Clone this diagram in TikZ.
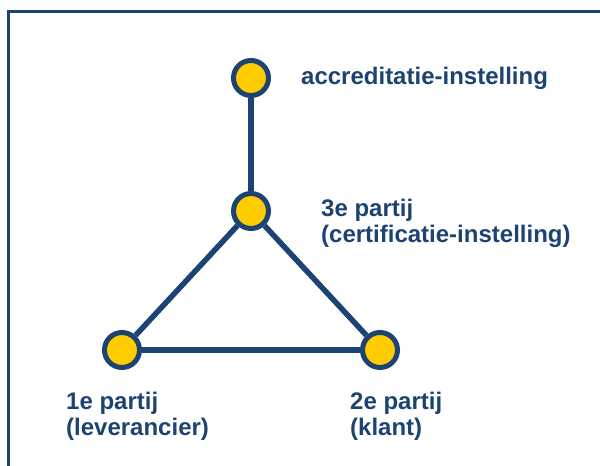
\documentclass[tikz,border=0pt]{standalone}
\usepackage{fontspec}
\setmainfont{Liberation Sans}
\usepackage{xcolor}
\usetikzlibrary{calc}

\definecolor{partyblue}{HTML}{1D4373}
\definecolor{partyyellow}{HTML}{FFCC00}

\begin{document}
\begin{tikzpicture}[x=1pt, y=-1pt,
    party/.style={circle, draw=partyblue, fill=partyyellow, line width=5pt, minimum size=35pt, inner sep=0pt},
    tie/.style={draw=partyblue, line width=5.5pt},
    partylabel/.style={anchor=base west, align=left, inner sep=0pt, text=partyblue,
      font=\fontsize{24}{26}\selectfont\bfseries}]

      \useasboundingbox (0,0) rectangle (600,466);

      \draw[partyblue, line width=3pt] (8,466) -- (8,11) -- (600,11);

      \node[party] (accr) at (251,78) {};
      \node[party] (derde) at (251,211) {};
      \node[party] (eerste) at (122,350) {};
      \node[party] (tweede) at (380,350) {};

      \draw[tie] (accr) -- (derde);
      \draw[tie] (derde) -- (eerste);
      \draw[tie] (derde) -- (tweede);
      \draw[tie] (eerste) -- (tweede);

      \node[partylabel] (accrtext) at (301,84) {accreditatie-instelling};
      \node[partylabel] (derdetext) at (321,242) {3e partij\\(certificatie-instelling)};
      \node[partylabel] (eerstetext) at (66,435) {1e partij\\(leverancier)};
      \node[partylabel] (tweedetext) at (350,435) {2e partij\\(klant)};
    \end{tikzpicture}
\end{document}
